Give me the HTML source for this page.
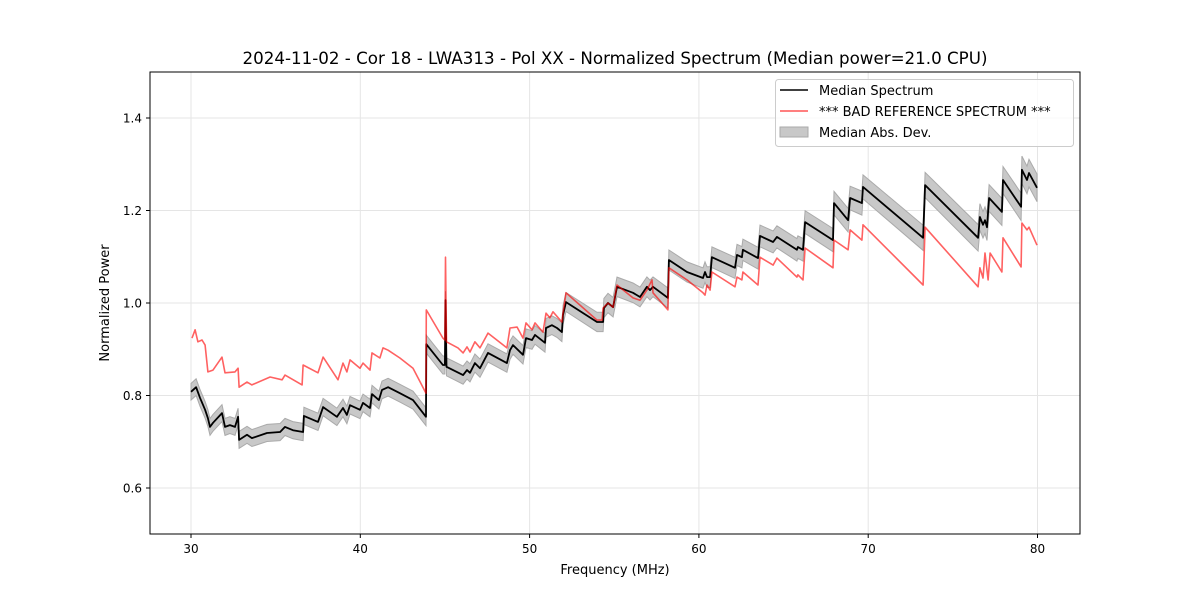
<!DOCTYPE html>
<html><head><meta charset="utf-8"><style>
body{margin:0;background:#fff;}
svg{display:block;font-family:"DejaVu Sans","Liberation Sans",sans-serif;}
</style></head><body>
<svg id="chart" width="1200" height="600" viewBox="0 0 1200 600">
<text x="615" y="64" text-anchor="middle" font-size="16.7" fill="#000">2024-11-02 - Cor 18 - LWA313 - Pol XX - Normalized Spectrum (Median power=21.0 CPU)</text>
<g id="grid"></g>
<g id="band"></g>
<g id="lines"></g>
<rect x="150" y="72" width="930" height="462" fill="none" stroke="#000" stroke-width="1"/>
<g id="ticks"></g>
<text x="615" y="574" text-anchor="middle" font-size="13">Frequency (MHz)</text>
<text transform="translate(109,303) rotate(-90)" text-anchor="middle" font-size="13">Normalized Power</text>
<g>
<rect x="775.5" y="79.5" width="298" height="67" rx="3" fill="#fff" fill-opacity="0.8" stroke="#ccc"/>
<line x1="780" y1="90" x2="808" y2="90" stroke="#000" stroke-width="1.5"/>
<text x="819" y="95" font-size="13">Median Spectrum</text>
<line x1="780" y1="111" x2="808" y2="111" stroke="#ff5555" stroke-width="1.5"/>
<text x="819" y="116" font-size="13">*** BAD REFERENCE SPECTRUM ***</text>
<rect x="780" y="127" width="28" height="10" fill="#c8c8c8" stroke="#aaa"/>
<text x="819" y="137" font-size="13">Median Abs. Dev.</text>
</g>
</svg>
<script>
const xTicks=[30,40,50,60,70,80];
const yTicks=[0.6,0.8,1.0,1.2,1.4];
const medFreq=[30.00,30.30,30.53,30.83,31.00,31.12,31.30,31.83,32.01,32.30,32.60,32.78,32.84,33.31,33.60,34.49,35.26,35.55,36.02,36.62,36.67,37.50,37.80,38.62,38.98,39.21,39.39,39.98,40.16,40.57,40.69,41.10,41.28,41.64,42.34,43.11,43.88,43.90,44.88,45.00,45.03,45.09,46.07,46.30,46.48,46.77,47.07,47.54,48.66,48.84,49.02,49.61,49.79,50.14,50.32,50.91,50.97,51.32,51.62,51.91,51.97,52.15,53.98,54.34,54.39,54.63,54.93,55.16,56.11,56.52,56.93,57.11,57.29,58.17,58.23,59.30,60.24,60.36,60.48,60.66,60.77,62.13,62.25,62.54,62.60,63.49,63.61,64.38,64.61,65.79,65.85,66.15,66.27,67.92,67.98,68.81,68.93,69.63,69.69,73.24,73.36,76.49,76.60,76.78,76.90,77.02,77.14,77.90,77.96,79.03,79.08,79.38,79.50,79.97];
const medVal=[0.808,0.818,0.795,0.769,0.751,0.732,0.741,0.762,0.732,0.736,0.732,0.754,0.704,0.715,0.708,0.719,0.721,0.732,0.725,0.721,0.756,0.743,0.775,0.754,0.773,0.758,0.779,0.769,0.784,0.773,0.803,0.790,0.812,0.818,0.805,0.790,0.754,0.911,0.866,0.866,1.006,0.862,0.844,0.855,0.849,0.870,0.859,0.892,0.870,0.898,0.909,0.888,0.924,0.920,0.931,0.914,0.946,0.952,0.946,0.937,0.974,1.002,0.959,0.959,0.989,1.000,0.991,1.035,1.022,1.013,1.035,1.028,1.035,1.011,1.093,1.067,1.054,1.067,1.056,1.056,1.099,1.076,1.104,1.099,1.115,1.097,1.145,1.132,1.143,1.115,1.121,1.115,1.175,1.136,1.216,1.179,1.227,1.216,1.251,1.141,1.255,1.141,1.186,1.169,1.179,1.164,1.227,1.197,1.266,1.208,1.288,1.266,1.281,1.249];
const refFreq=[30.06,30.24,30.41,30.65,30.83,31.00,31.30,31.83,32.01,32.60,32.78,32.84,33.31,33.60,34.67,35.38,35.55,36.56,36.62,37.50,37.80,38.68,38.98,39.21,39.39,39.98,40.16,40.57,40.69,41.16,41.34,41.64,42.34,43.11,43.88,43.90,44.88,45.00,45.03,45.09,45.77,46.07,46.30,46.48,46.77,47.07,47.54,48.66,48.84,49.26,49.61,49.79,50.14,50.32,50.79,50.97,51.20,51.38,51.91,51.97,52.15,53.98,54.28,54.34,54.63,54.93,55.16,56.11,56.52,56.93,57.23,57.29,58.17,58.23,59.30,60.24,60.36,60.48,60.66,60.77,62.13,62.25,62.54,62.60,63.49,63.61,64.38,64.61,65.79,65.85,66.15,66.27,67.92,67.98,68.81,68.93,69.63,69.69,73.24,73.36,76.49,76.60,76.78,76.90,77.08,77.20,77.90,77.96,79.03,79.08,79.38,79.50,79.97];
const refVal=[0.924,0.942,0.916,0.920,0.909,0.851,0.855,0.883,0.849,0.851,0.859,0.818,0.829,0.823,0.840,0.834,0.844,0.823,0.866,0.849,0.883,0.834,0.870,0.851,0.877,0.859,0.870,0.855,0.892,0.881,0.903,0.898,0.881,0.859,0.805,0.985,0.924,0.920,1.099,0.916,0.903,0.892,0.905,0.894,0.916,0.903,0.935,0.903,0.946,0.948,0.924,0.957,0.942,0.957,0.937,0.978,0.968,0.981,0.959,0.978,1.022,0.963,0.963,0.989,1.000,0.991,1.039,1.011,1.006,1.028,1.050,1.022,0.985,1.076,1.050,1.022,1.017,1.039,1.028,1.067,1.035,1.056,1.050,1.067,1.039,1.099,1.082,1.097,1.056,1.061,1.050,1.119,1.076,1.136,1.115,1.158,1.136,1.169,1.039,1.164,1.035,1.076,1.054,1.108,1.050,1.108,1.067,1.141,1.078,1.173,1.158,1.164,1.125];
const madFreq=[30,40,50,60,70,80];
const madVal=[0.018,0.019,0.02,0.022,0.026,0.03];

const NS='http://www.w3.org/2000/svg';
const X=f=>191+(f-30)*16.93;
const Y=v=>303-(v-1)*462.5;
function madAt(f){for(let i=0;i<madFreq.length-1;i++){if(f<=madFreq[i+1]){const t=(f-madFreq[i])/(madFreq[i+1]-madFreq[i]);return madVal[i]+t*(madVal[i+1]-madVal[i]);}}return madVal[madVal.length-1];}
function mk(tag,attrs,parent){const e=document.createElementNS(NS,tag);for(const k in attrs)e.setAttribute(k,attrs[k]);parent.appendChild(e);return e;}
const grid=document.getElementById('grid'),ticks=document.getElementById('ticks');
xTicks.forEach(t=>{const x=X(t);
 const g=mk('line',{x1:x,y1:72,x2:x,y2:534,stroke:'#e5e5e5','stroke-width':1},grid);
 
 
 const tk=mk('line',{x1:x,y1:534,x2:x,y2:538,stroke:'#000'},ticks);
 
 
 const tx=mk('text',{x:x,y:553,'text-anchor':'middle','font-size':12},ticks);tx.textContent=t;
 
 
});
yTicks.forEach(t=>{const y=Y(t);
 const g=mk('line',{x1:150,y1:y,x2:1080,y2:y,stroke:'#e5e5e5','stroke-width':1},grid);
 
 
 const tk=mk('line',{x1:146,y1:y,x2:150,y2:y,stroke:'#000'},ticks);
 
 
 const tx=mk('text',{x:142,y:y+4.5,'text-anchor':'end','font-size':12},ticks);tx.textContent=t.toFixed(1);
 
 
});
let up=[],dn=[];
medFreq.forEach((f,i)=>{const m=madAt(f);up.push(X(f).toFixed(1)+','+Y(medVal[i]+m).toFixed(1));dn.push(X(f).toFixed(1)+','+Y(medVal[i]-m).toFixed(1));});
const band=mk('polygon',{points:up.concat(dn.reverse()).join(' '),fill:'#c8c8c8',stroke:'#aaa','stroke-width':1},document.getElementById('band'));


const lines=document.getElementById('lines');
const mp=mk('polyline',{points:medFreq.map((f,i)=>X(f).toFixed(1)+','+Y(medVal[i]).toFixed(1)).join(' '),fill:'none',stroke:'#000','stroke-width':1.8,'stroke-linejoin':'round'},lines);


const rp=mk('polyline',{points:refFreq.map((f,i)=>X(f).toFixed(1)+','+Y(refVal[i]).toFixed(1)).join(' '),fill:'none',stroke:'rgba(255,0,0,0.62)','stroke-width':1.6,'stroke-linejoin':'round'},lines);


</script>
</body></html>
